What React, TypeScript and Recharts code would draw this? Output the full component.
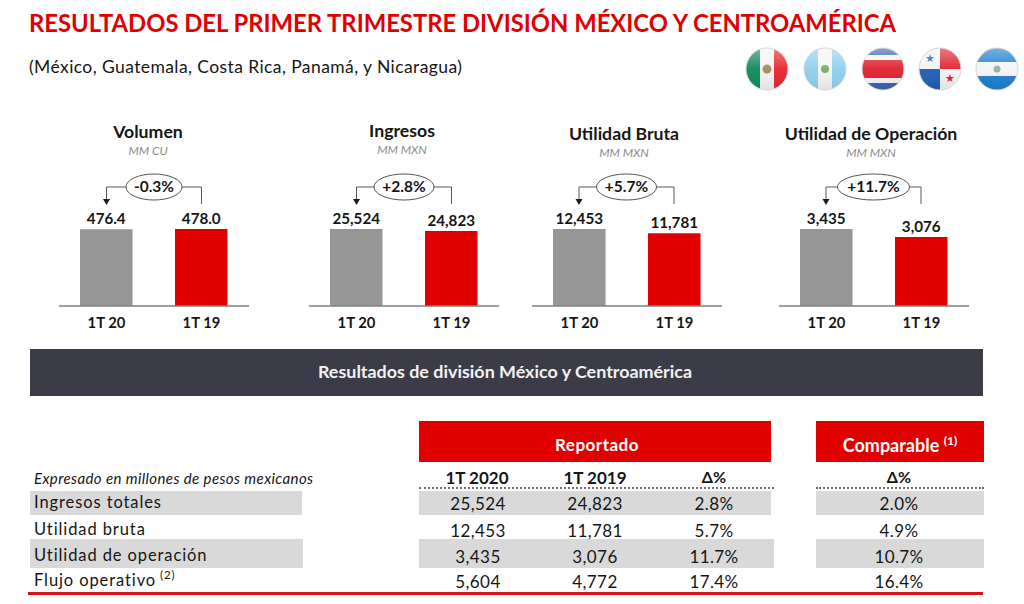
import React from 'react';
import { BarChart, Bar, XAxis, YAxis, Cell, LabelList } from 'recharts';

const FONT = 'Lato, "Open Sans", sans-serif';
const RED = '#e00000';
const GREY_BAR = '#969696';
const INK = '#161616';

const periods = ['1T 20', '1T 19'];
const volumen = [476.4, 478.0];
const ingresos = [25524, 24823];
const utilidadBruta = [12453, 11781];
const utilidadOperacion = [3435, 3076];

const rowLabels = ['Ingresos totales', 'Utilidad bruta', 'Utilidad de operación', 'Flujo operativo'];
const reported2020 = ['25,524', '12,453', '3,435', '5,604'];
const reported2019 = ['24,823', '11,781', '3,076', '4,772'];
const reportedDelta = ['2.8%', '5.7%', '11.7%', '17.4%'];
const comparableDelta = ['2.0%', '4.9%', '10.7%', '16.4%'];

const fmt = (v: number) => v.toLocaleString('en-US');
const fmt1 = (v: number) => v.toFixed(1);

const panels = [
  { title: 'Volumen', unit: 'MM CU', values: volumen, format: fmt1, change: '-0.3%', left: 59, titleX: 148, titleY: 132, rx: 28 },
  { title: 'Ingresos', unit: 'MM MXN', values: ingresos, format: fmt, change: '+2.8%', left: 309, titleX: 402, titleY: 131, rx: 30 },
  { title: 'Utilidad Bruta', unit: 'MM MXN', values: utilidadBruta, format: fmt, change: '+5.7%', left: 531.5, titleX: 624, titleY: 134, rx: 30 },
  { title: 'Utilidad de Operación', unit: 'MM MXN', values: utilidadOperacion, format: fmt, change: '+11.7%', left: 778.5, titleX: 871, titleY: 134, rx: 36 },
];

// centred or left aligned text placed on the page by its vertical middle
const Txt: React.FC<{ x: number; y: number; size: number; align?: 'left' | 'center'; style?: React.CSSProperties; children: React.ReactNode }> = ({ x, y, size, align = 'center', style, children }) => (
  <div
    style={{
      position: 'absolute',
      left: x,
      top: y,
      transform: align === 'center' ? 'translate(-50%, -50%)' : 'translateY(-50%)',
      fontSize: size,
      lineHeight: 1,
      whiteSpace: 'nowrap',
      color: INK,
      ...style,
    }}
  >
    {children}
  </div>
);

const Box: React.FC<{ x: number; y: number; w: number; h: number; color: string }> = ({ x, y, w, h, color }) => (
  <div style={{ position: 'absolute', left: x, top: y, width: w, height: h, background: color }} />
);

const CHART_W = 190;
const CHART_H = 150;
const CHART_TOP = 190;

const Panel: React.FC<{ panel: (typeof panels)[number] }> = ({ panel }) => {
  const data = periods.map((period, i) => ({ period, value: panel.values[i] }));
  const x1 = panel.left + CHART_W / 4;
  const x2 = panel.left + (CHART_W * 3) / 4;
  const mid = (x1 + x2) / 2;
  return (
    <>
      <Txt x={panel.titleX} y={panel.titleY} size={17.7} style={{ fontWeight: 700 }}>{panel.title}</Txt>
      <Txt x={panel.titleX} y={panel.titleY + 19} size={12} style={{ fontStyle: 'italic', color: '#8c8c8c' }}>{panel.unit}</Txt>
      <div style={{ position: 'absolute', left: panel.left, top: CHART_TOP }}>
        <BarChart width={CHART_W} height={CHART_H} data={data} margin={{ top: 39, right: 0, bottom: 0, left: 0 }}>
          <XAxis
            dataKey="period"
            height={34}
            interval={0}
            tickLine={false}
            tickMargin={5}
            axisLine={{ stroke: '#808080', strokeWidth: 1.5 }}
            tick={{ fontSize: 14.8, fontWeight: 700, fill: INK, fontFamily: FONT }}
          />
          <YAxis hide domain={[0, Math.max(...panel.values)]} />
          <Bar dataKey="value" barSize={52.5} isAnimationActive={false}>
            {data.map((d, i) => (
              <Cell key={d.period} fill={i === 0 ? GREY_BAR : RED} />
            ))}
            <LabelList
              dataKey="value"
              position="top"
              offset={5}
              formatter={panel.format as any}
              style={{ fontSize: 15.2, fontWeight: 700, fill: INK, fontFamily: FONT }}
            />
          </Bar>
        </BarChart>
      </div>
      <svg width={1024} height={604} style={{ position: 'absolute', left: 0, top: 0, pointerEvents: 'none' }}>
        <path d={`M${x2} 204V187H${x1}V199`} fill="none" stroke="#595959" strokeWidth={1} />
        <path d={`M${x1 - 3.5} 199H${x1 + 3.5}L${x1} 205Z`} fill="#1c1c1c" />
        <ellipse cx={mid} cy={187} rx={panel.rx} ry={13} fill="#fff" stroke="#555" strokeWidth={1} />
        <text x={mid} y={192} textAnchor="middle" fontSize={15.5} fontWeight={700} fill={INK} fontFamily={FONT}>{panel.change}</text>
      </svg>
    </>
  );
};

const Flags: React.FC = () => {
  const cx = [767, 825, 883, 940, 997];
  const r = 21;
  const y = 69;
  const t = y - r;
  const d = r * 2;
  return (
    <svg width={1024} height={120} style={{ position: 'absolute', left: 0, top: 0 }}>
      <defs>
        {cx.map((c, i) => (
          <clipPath id={`flag${i}`} key={c}>
            <circle cx={c} cy={y} r={r} />
          </clipPath>
        ))}
        <linearGradient id="gloss" x1="0" y1="0" x2="0" y2="1">
          <stop offset="0" stopColor="#fff" stopOpacity={0.4} />
          <stop offset="0.5" stopColor="#fff" stopOpacity={0.05} />
          <stop offset="1" stopColor="#000" stopOpacity={0.08} />
        </linearGradient>
      </defs>
      <g clipPath="url(#flag0)">
        <rect x={cx[0] - r} y={t} width={d / 3} height={d} fill="#0f8a5a" />
        <rect x={cx[0] - r + d / 3} y={t} width={d / 3} height={d} fill="#f4f4f4" />
        <rect x={cx[0] + r - d / 3} y={t} width={d / 3} height={d} fill="#e8252d" />
        <circle cx={cx[0]} cy={y} r={4.5} fill="#a58a5c" />
      </g>
      <g clipPath="url(#flag1)">
        <rect x={cx[1] - r} y={t} width={d} height={d} fill="#f4f4f4" />
        <rect x={cx[1] - r} y={t} width={d / 3} height={d} fill="#8fd0ee" />
        <rect x={cx[1] + r - d / 3} y={t} width={d / 3} height={d} fill="#8fd0ee" />
        <circle cx={cx[1]} cy={y} r={4} fill="#7fa86a" />
      </g>
      <g clipPath="url(#flag2)">
        <rect x={cx[2] - r} y={t} width={d} height={d} fill="#f4f4f4" />
        <rect x={cx[2] - r} y={t} width={d} height={7} fill="#3d62b0" />
        <rect x={cx[2] - r} y={y - 9} width={d} height={18} fill="#e0212e" />
        <rect x={cx[2] - r} y={y + r - 7} width={d} height={7} fill="#3d62b0" />
      </g>
      <g clipPath="url(#flag3)">
        <rect x={cx[3] - r} y={t} width={d} height={d} fill="#f4f4f4" />
        <rect x={cx[3]} y={t} width={r} height={r} fill="#e0212e" />
        <rect x={cx[3] - r} y={y} width={r} height={r} fill="#1f5fb5" />
        <text x={cx[3] - 10} y={y - 7} textAnchor="middle" fontSize={11} fontFamily="DejaVu Sans" fill="#1f5fb5">★</text>
        <text x={cx[3] + 10} y={y + 13} textAnchor="middle" fontSize={11} fontFamily="DejaVu Sans" fill="#e0212e">★</text>
      </g>
      <g clipPath="url(#flag4)">
        <rect x={cx[4] - r} y={t} width={d} height={d} fill="#f4f4f4" />
        <rect x={cx[4] - r} y={t} width={d} height={d / 3} fill="#1f7fd0" />
        <rect x={cx[4] - r} y={y + r - d / 3} width={d} height={d / 3} fill="#1f7fd0" />
        <circle cx={cx[4]} cy={y} r={3.5} fill="#8fb5a0" />
      </g>
      {cx.map((c) => (
        <g key={c}>
          <circle cx={c} cy={y} r={r} fill="url(#gloss)" />
          <circle cx={c} cy={y} r={r} fill="none" stroke="#d8d8d8" strokeWidth={1} />
        </g>
      ))}
    </svg>
  );
};

const rowY = [503, 529.5, 556, 581];
const columns = [
  { x: 478, values: reported2020 },
  { x: 595, values: reported2019 },
  { x: 714, values: reportedDelta },
  { x: 899, values: comparableDelta },
];

const Table: React.FC = () => (
  <>
    <Box x={419} y={421} w={352} h={41} color={RED} />
    <Box x={816} y={421} w={168} h={41} color={RED} />
    <Txt x={597} y={444} size={17} style={{ color: '#fff', fontWeight: 700, letterSpacing: 0.5 }}>Reportado</Txt>
    <Txt x={900} y={445} size={18} style={{ color: '#fff', fontWeight: 700 }}>
      Comparable <sup style={{ fontSize: 12, lineHeight: 0 }}>(1)</sup>
    </Txt>
    <Txt x={34} y={478} size={15} align="left" style={{ fontStyle: 'italic', letterSpacing: 0.4 }}>Expresado en millones de pesos mexicanos</Txt>
    <Txt x={477} y={477} size={17} style={{ fontWeight: 700 }}>1T 2020</Txt>
    <Txt x={595} y={477} size={17} style={{ fontWeight: 700 }}>1T 2019</Txt>
    <Txt x={714} y={477} size={16} style={{ fontWeight: 700 }}>Δ%</Txt>
    <Txt x={899} y={477} size={16} style={{ fontWeight: 700 }}>Δ%</Txt>
    <div style={{ position: 'absolute', left: 419, top: 487, width: 355, borderTop: '2px dotted #6e6e6e' }} />
    <div style={{ position: 'absolute', left: 816, top: 487, width: 168, borderTop: '2px dotted #6e6e6e' }} />

    <Box x={30} y={491} w={272} h={24} color="#d9d9d9" />
    <Box x={419} y={491} w={352} h={24} color="#d9d9d9" />
    <Box x={816} y={491} w={168} h={24} color="#d9d9d9" />
    <Box x={30} y={539} w={273} h={29} color="#d9d9d9" />
    <Box x={419} y={539} w={355} h={29} color="#d9d9d9" />
    <Box x={816} y={539} w={168} h={29} color="#d9d9d9" />

    {rowLabels.map((label, i) => (
      <Txt key={label} x={34} y={rowY[i] - 1} size={16.5} align="left" style={{ letterSpacing: 0.9 }}>
        {label}
        {i === 3 && <sup style={{ fontSize: 11.5, lineHeight: 0 }}> (2)</sup>}
      </Txt>
    ))}
    {columns.map((col) =>
      col.values.map((v, i) => (
        <Txt key={`${col.x}-${i}`} x={col.x} y={rowY[i]} size={17} style={{ letterSpacing: 0.4 }}>{v}</Txt>
      )),
    )}
    <Box x={28} y={592} w={955} h={2.5} color="#d8121f" />
  </>
);

export default function App() {
  return (
    <div style={{ position: 'absolute', left: 0, top: 0, width: 1024, height: 604, overflow: 'hidden', background: '#fff', fontFamily: FONT }}>
      <Txt x={29} y={24} size={23.8} align="left" style={{ color: '#e00000', fontWeight: 700 }}>
        RESULTADOS DEL PRIMER TRIMESTRE DIVISIÓN MÉXICO Y CENTROAMÉRICA
      </Txt>
      <Txt x={29} y={67} size={17.5} align="left" style={{ letterSpacing: 0.41 }}>(México, Guatemala, Costa Rica, Panamá, y Nicaragua)</Txt>
      <Flags />
      {panels.map((p) => (
        <Panel key={p.title} panel={p} />
      ))}
      <Box x={30} y={349} w={953} h={47} color="#3b3c48" />
      <Txt x={505} y={372} size={17.9} style={{ color: '#f2f2f2', fontWeight: 700 }}>Resultados de división México y Centroamérica</Txt>
      <Table />
    </div>
  );
}
